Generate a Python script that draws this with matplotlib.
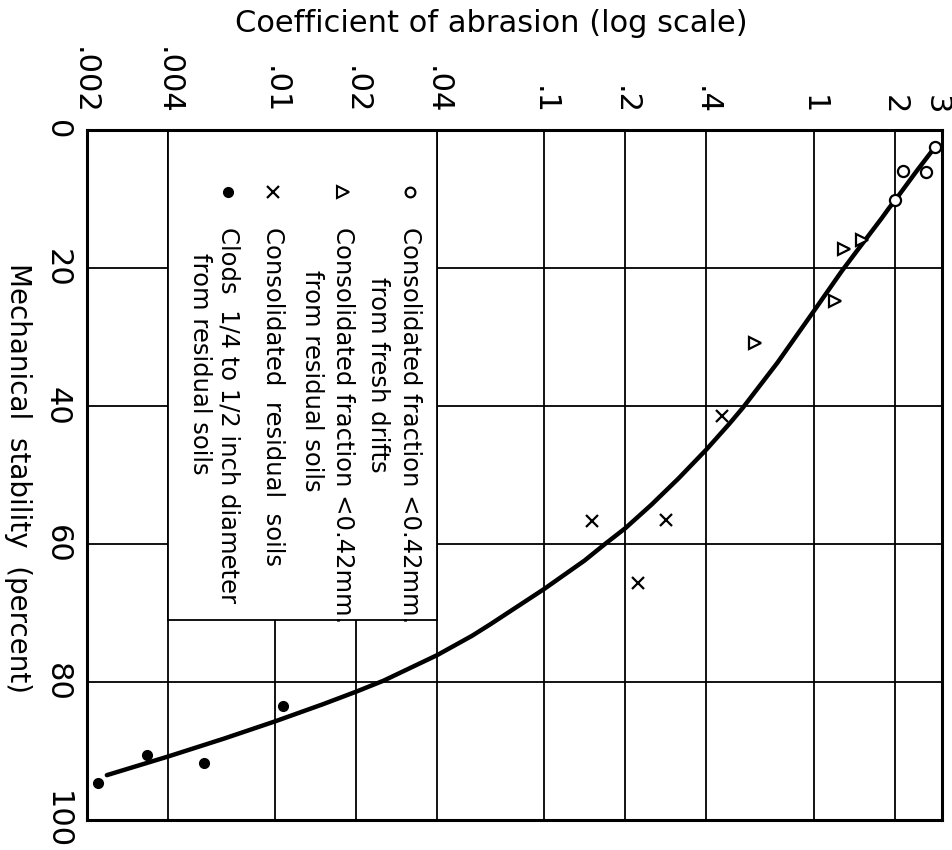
import matplotlib
matplotlib.use("Agg")
import matplotlib.pyplot as plt
from matplotlib.patches import Rectangle
from matplotlib.ticker import NullLocator
from matplotlib.transforms import ScaledTranslation

plt.rcParams['font.family'] = ['DejaVu Sans']

# ---- data (x = coefficient of abrasion, y = mechanical stability %) ----
x_ticks = [0.002, 0.004, 0.01, 0.02, 0.04, 0.1, 0.2, 0.4, 1, 2, 3]
x_tick_labels = ['.002', '.004', '.01', '.02', '.04', '.1', '.2', '.4', '1', '2', '3']
y_ticks = [0, 20, 40, 60, 80, 100]
y_tick_labels = ['0', '20', '40', '60', '80', '100']

fresh_x = [2.82, 2.14, 2.61, 2.00]
fresh_y = [2.5, 5.9, 6.1, 10.1]

frac_x = [1.30, 1.51, 1.20, 0.605]
frac_y = [17.2, 16.0, 24.8, 30.9]

resid_x = [0.456, 0.150, 0.284, 0.223]
resid_y = [41.5, 56.7, 56.5, 65.7]

clod_x = [0.0107, 0.00334, 0.00543, 0.00219]
clod_y = [83.5, 90.6, 91.7, 94.7]

curve_x = [0.00237, 0.004, 0.00646, 0.01, 0.0151, 0.02, 0.0253, 0.04, 0.0539, 0.0632,
           0.1, 0.141, 0.168, 0.2, 0.250, 0.315, 0.4, 0.486, 0.545, 0.735,
           1.0, 1.27, 1.47, 1.79, 1.90, 2.07, 2.42, 2.71, 2.82]
curve_y = [93.5, 90.8, 88.2, 85.7, 83.2, 81.4, 79.8, 76.1, 73.3, 71.6,
           66.5, 62.4, 60.0, 57.7, 54.3, 50.5, 46.3, 42.6, 40.3, 33.7,
           26.3, 20.5, 17.2, 12.8, 11.4, 9.5, 5.9, 3.4, 2.5]

legend_labels = [
    ('Consolidated fraction <0.42mm.', 'from fresh drifts'),
    ('Consolidated fraction <0.42mm.', 'from residual soils'),
    ('Consolidated  residual  soils', None),
    ('Clods  1/4 to 1/2 inch diameter', 'from residual soils'),
]
legend_box_x = [0.004, 0.04]
legend_box_bottom = 71

# ---- figure ----
W, H = 953, 850
fig = plt.figure(figsize=(W / 100, H / 100), dpi=100)
ax = fig.add_axes([87 / W, 1 - 820 / H, 855 / W, 690 / H])

ax.set_xscale('log')
ax.set_xlim(0.002, 3)
ax.set_ylim(100, 0)
ax.xaxis.tick_top()
ax.set_xticks(x_ticks)
ax.set_xticklabels(x_tick_labels, rotation=-90, fontsize=22)
ax.xaxis.set_minor_locator(NullLocator())
ax.set_yticks(y_ticks)
ax.set_yticklabels(y_tick_labels, rotation=-90, va='center', fontsize=22)
ax.tick_params(axis='both', length=0, pad=11)
ax.grid(True, color='black', lw=1.3)
for sp in ax.spines.values():
    sp.set_linewidth(2.2)

# shift the first and last top labels slightly inward, as in the reference
xl = ax.get_xticklabels()
xl[-1].set_transform(xl[-1].get_transform() + ScaledTranslation(-0.06, 0, fig.dpi_scale_trans))
xl[0].set_transform(xl[0].get_transform() + ScaledTranslation(-0.03, 0, fig.dpi_scale_trans))

# legend box (white area over grid)
ax.add_patch(Rectangle((legend_box_x[0], 0), legend_box_x[1] - legend_box_x[0], legend_box_bottom,
                       facecolor='white', edgecolor='black', lw=1.3, zorder=2))

# curve and points
ax.plot(curve_x, curve_y, color='black', lw=3.2, zorder=3, solid_capstyle='round',
        solid_joinstyle='round')
ax.plot(fresh_x, fresh_y, 'o', ms=8, mfc='white', mec='black', mew=1.6, zorder=4)
ax.plot(frac_x, frac_y, '>', ms=9, mfc='white', mec='black', mew=1.6, zorder=4)
ax.plot(resid_x, resid_y, 'x', ms=9, color='black', mew=1.6, zorder=4)
ax.plot(clod_x, clod_y, 'o', ms=7, color='black', zorder=4)

# legend content (rotated)
mark_y = 0.910
marker_specs = [
    dict(marker='o', ms=7, mfc='white', mec='black', mew=1.6),
    dict(marker='>', ms=8, mfc='white', mec='black', mew=1.5),
    dict(marker='x', ms=8, color='black', mew=1.6),
    dict(marker='o', ms=7, color='black'),
]
line_x = [0.378, 0.299, 0.218, 0.165]
sub_x = [0.340, 0.263, None, 0.132]
sub_y = [0.787, 0.797, None, 0.822]
for i, (l1, l2) in enumerate(legend_labels):
    ax.plot([line_x[i]], [mark_y], transform=ax.transAxes, linestyle='none',
            zorder=5, clip_on=False, **marker_specs[i])
    ax.text(line_x[i], 0.859, l1, transform=ax.transAxes, rotation=-90,
            ha='center', va='top', fontsize=17.5, zorder=5)
    if l2:
        ax.text(sub_x[i], sub_y[i], l2, transform=ax.transAxes, rotation=-90,
                ha='center', va='top', fontsize=17.5, zorder=5)

fig.text(491 / W, 1 - 24 / H, 'Coefficient of abrasion (log scale)', ha='center', va='center',
         fontsize=22)
fig.text(18 / W, 1 - 478 / H, 'Mechanical  stability  (percent)', rotation=-90,
         ha='center', va='center', fontsize=20)

fig.savefig('out.png', dpi=100)
